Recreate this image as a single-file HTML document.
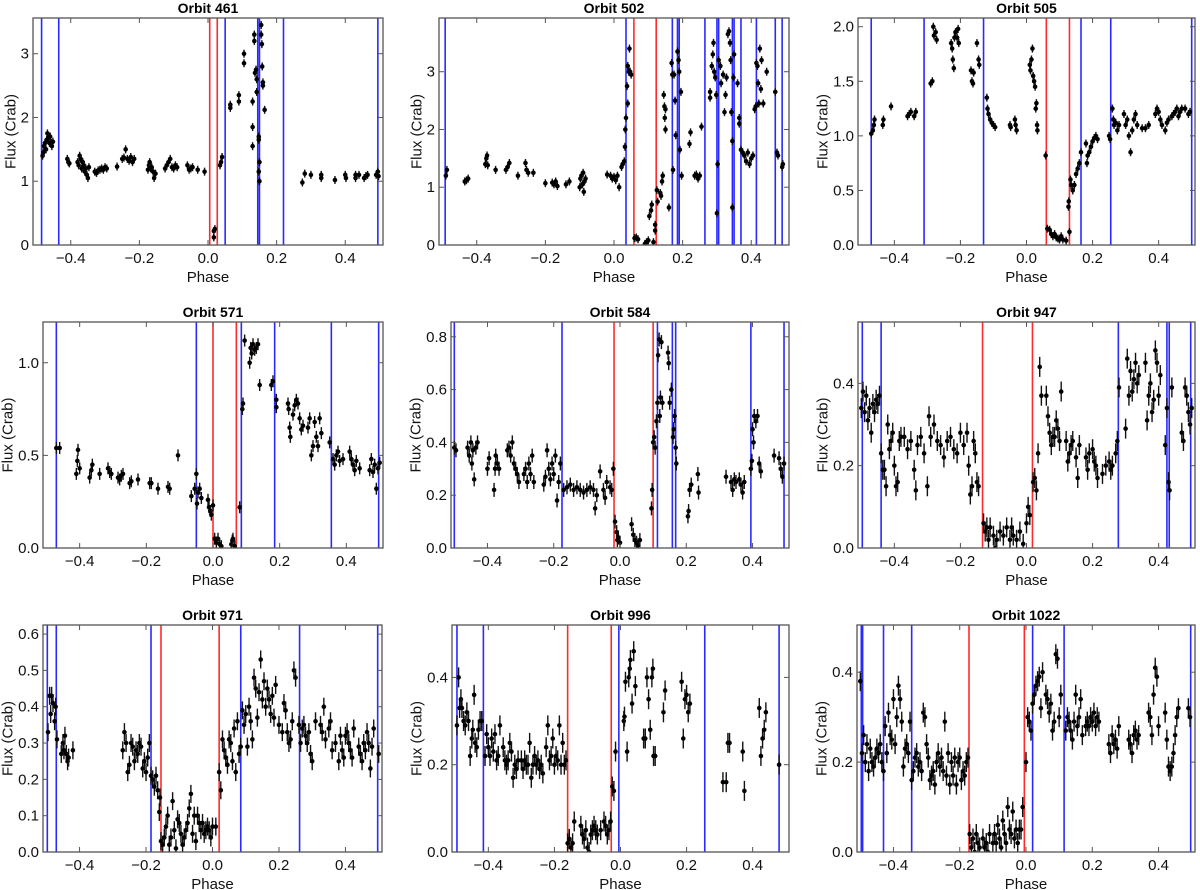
<!DOCTYPE html>
<html><head><meta charset="utf-8"><style>
html,body{margin:0;padding:0;background:#fff;}
svg{display:block;font-family:"Liberation Sans",Arial,sans-serif;}
</style></head><body>
<svg id="fig" width="1200" height="890" viewBox="0 0 1200 890" xmlns="http://www.w3.org/2000/svg"></svg>
<script>
const obs461=[[-0.482,1.4],[-0.48,1.45],[-0.478,1.55],[-0.475,1.6],[-0.472,1.5],[-0.47,1.65],[-0.468,1.75],[-0.465,1.68],[-0.462,1.6],[-0.46,1.7],[-0.457,1.6],[-0.455,1.55],[-0.452,1.62],[-0.41,1.35],[-0.407,1.3],[-0.404,1.28],[-0.38,1.3],[-0.377,1.25],[-0.374,1.4],[-0.371,1.35],[-0.368,1.2],[-0.365,1.3],[-0.362,1.25],[-0.359,1.15],[-0.356,1.2],[-0.353,1.1],[-0.35,1.05],[-0.347,1.22],[-0.33,1.15],[-0.325,1.13],[-0.32,1.17],[-0.315,1.18],[-0.31,1.2],[-0.305,1.18],[-0.3,1.22],[-0.295,1.2],[-0.265,1.23],[-0.25,1.35],[-0.245,1.37],[-0.24,1.5],[-0.235,1.35],[-0.23,1.32],[-0.225,1.38],[-0.22,1.3],[-0.215,1.35],[-0.175,1.18],[-0.172,1.25],[-0.17,1.3],[-0.167,1.2],[-0.164,1.22],[-0.16,1.15],[-0.157,1.05],[-0.153,1.12],[-0.125,1.2],[-0.12,1.25],[-0.115,1.3],[-0.11,1.35],[-0.105,1.22],[-0.1,1.2],[-0.095,1.25],[-0.09,1.22],[-0.06,1.25],[-0.055,1.18],[-0.05,1.2],[-0.045,1.22],[-0.03,1.18],[-0.01,1.15],[0.017,0.12],[0.017,0.22],[0.02,0.25],[0.035,1.25],[0.038,1.3],[0.041,1.38],[0.065,2.2],[0.065,2.15],[0.09,2.35],[0.09,2.25],[0.105,3.0],[0.105,2.85],[0.13,2.25],[0.13,1.85],[0.13,1.55],[0.135,3.3],[0.135,3.2],[0.137,2.7],[0.14,2.75],[0.142,2.6],[0.142,2.4],[0.148,1.7],[0.148,1.65],[0.15,1.3],[0.148,1.15],[0.15,1.0],[0.155,3.45],[0.155,3.3],[0.157,3.15],[0.158,2.8],[0.16,2.55],[0.16,2.5],[0.165,2.12],[0.275,0.98],[0.282,1.12],[0.3,1.1],[0.33,1.1],[0.33,1.05],[0.37,1.02],[0.4,1.1],[0.402,1.05],[0.43,1.05],[0.43,1.1],[0.44,1.1],[0.455,1.05],[0.46,1.08],[0.465,1.1],[0.49,1.1],[0.495,1.15],[0.497,1.08]];
const blue461=[-0.485,-0.435,0.05,0.145,0.15,0.22,0.495];
const red461=[0.005,0.027];

const obs502=[[-0.49,1.2],[-0.487,1.3],[-0.435,1.1],[-0.43,1.12],[-0.425,1.15],[-0.375,1.4],[-0.372,1.5],[-0.37,1.55],[-0.368,1.38],[-0.345,1.3],[-0.315,1.3],[-0.31,1.35],[-0.305,1.42],[-0.28,1.2],[-0.258,1.42],[-0.255,1.3],[-0.25,1.25],[-0.235,1.25],[-0.2,1.07],[-0.18,1.08],[-0.175,1.05],[-0.17,1.1],[-0.165,1.02],[-0.14,1.05],[-0.13,1.1],[-0.1,1.0],[-0.098,1.15],[-0.095,1.2],[-0.092,1.05],[-0.09,1.25],[-0.088,0.92],[-0.086,1.1],[-0.083,1.15],[-0.02,1.22],[-0.01,1.2],[-0.005,1.15],[0.0,1.18],[0.005,1.12],[0.01,1.2],[0.015,1.0],[0.022,1.35],[0.025,1.4],[0.03,1.45],[0.032,1.7],[0.033,2.0],[0.035,2.2],[0.038,2.75],[0.04,2.45],[0.04,3.1],[0.043,3.0],[0.045,3.4],[0.047,3.0],[0.05,2.95],[0.06,0.12],[0.065,0.13],[0.07,0.1],[0.09,0.02],[0.095,0.05],[0.1,0.08],[0.103,0.5],[0.108,0.6],[0.11,0.7],[0.115,0.05],[0.12,0.25],[0.12,0.35],[0.125,0.95],[0.127,0.75],[0.135,0.9],[0.137,0.85],[0.14,1.1],[0.142,1.2],[0.145,2.6],[0.147,2.4],[0.148,2.2],[0.15,2.0],[0.15,2.35],[0.16,0.65],[0.168,3.15],[0.17,2.95],[0.172,1.3],[0.175,2.95],[0.178,2.5],[0.18,1.9],[0.185,3.35],[0.188,3.2],[0.19,3.0],[0.192,1.65],[0.195,2.65],[0.197,1.2],[0.22,1.75],[0.223,1.95],[0.235,1.2],[0.24,1.22],[0.245,1.15],[0.25,1.2],[0.255,2.05],[0.28,2.55],[0.28,2.65],[0.285,3.1],[0.288,3.3],[0.29,3.5],[0.292,3.0],[0.295,2.9],[0.298,2.6],[0.3,0.55],[0.302,1.4],[0.305,3.2],[0.31,3.1],[0.312,2.8],[0.318,2.95],[0.322,2.3],[0.325,2.6],[0.328,2.9],[0.332,3.65],[0.335,3.7],[0.338,3.5],[0.34,3.2],[0.342,2.3],[0.345,1.8],[0.345,0.65],[0.348,2.9],[0.35,3.3],[0.36,2.8],[0.365,2.2],[0.365,2.1],[0.37,1.65],[0.375,1.6],[0.38,1.55],[0.385,1.45],[0.39,1.6],[0.395,1.4],[0.4,1.5],[0.405,1.55],[0.41,2.35],[0.413,2.4],[0.415,3.15],[0.418,3.1],[0.42,2.8],[0.422,2.45],[0.425,3.4],[0.428,2.7],[0.43,3.2],[0.435,2.45],[0.445,3.0],[0.47,2.65],[0.475,1.6],[0.478,1.55],[0.49,1.35],[0.492,1.4]];
const blue502=[-0.492,0.035,0.17,0.185,0.19,0.265,0.3,0.305,0.345,0.35,0.37,0.415,0.47,0.49];
const red502=[0.058,0.123];

const obs505=[[-0.47,1.02],[-0.465,1.05],[-0.462,1.1],[-0.46,1.15],[-0.435,1.1],[-0.433,1.15],[-0.41,1.27],[-0.36,1.18],[-0.355,1.2],[-0.35,1.22],[-0.34,1.18],[-0.335,1.22],[-0.29,1.48],[-0.285,1.5],[-0.282,2.0],[-0.28,1.92],[-0.275,1.95],[-0.272,1.88],[-0.228,1.85],[-0.225,1.8],[-0.223,1.7],[-0.22,1.62],[-0.218,1.9],[-0.215,1.95],[-0.21,1.9],[-0.207,1.98],[-0.205,1.85],[-0.168,1.6],[-0.165,1.5],[-0.162,1.48],[-0.16,1.58],[-0.15,1.85],[-0.145,1.7],[-0.143,1.65],[-0.12,1.35],[-0.118,1.25],[-0.115,1.2],[-0.11,1.15],[-0.105,1.12],[-0.1,1.1],[-0.095,1.08],[-0.05,1.1],[-0.048,1.08],[-0.035,1.15],[-0.033,1.1],[-0.03,1.05],[0.01,1.65],[0.012,1.6],[0.015,1.7],[0.018,1.8],[0.02,1.55],[0.023,1.5],[0.026,1.45],[0.028,1.25],[0.03,1.3],[0.032,1.1],[0.033,1.05],[0.058,0.82],[0.063,0.15],[0.07,0.14],[0.075,0.1],[0.08,0.08],[0.085,0.1],[0.09,0.07],[0.095,0.06],[0.1,0.05],[0.105,0.08],[0.11,0.05],[0.12,0.04],[0.127,0.35],[0.128,0.4],[0.13,0.12],[0.133,0.6],[0.135,0.55],[0.14,0.5],[0.145,0.55],[0.15,0.65],[0.155,0.7],[0.16,0.75],[0.165,0.85],[0.18,0.93],[0.183,0.75],[0.185,0.82],[0.19,0.85],[0.195,0.9],[0.2,0.95],[0.205,0.98],[0.21,1.0],[0.215,0.97],[0.25,1.0],[0.253,0.97],[0.26,1.25],[0.263,1.15],[0.265,1.1],[0.27,1.12],[0.275,1.05],[0.28,1.1],[0.295,1.2],[0.3,1.1],[0.305,1.15],[0.31,1.0],[0.315,0.85],[0.32,1.05],[0.325,1.15],[0.33,1.2],[0.335,1.1],[0.35,1.07],[0.36,1.07],[0.37,1.1],[0.39,1.2],[0.395,1.25],[0.4,1.22],[0.405,1.15],[0.41,1.1],[0.42,1.05],[0.425,1.12],[0.43,1.15],[0.44,1.18],[0.445,1.2],[0.45,1.22],[0.455,1.25],[0.46,1.18],[0.465,1.22],[0.47,1.25],[0.48,1.25],[0.49,1.2],[0.495,1.22]];
const blue505=[-0.47,-0.31,-0.13,0.165,0.255,0.5];
const red505=[0.06,0.13];

const obs571=[[-0.47,0.54],[-0.46,0.54],[-0.41,0.4],[-0.407,0.47],[-0.405,0.53],[-0.4,0.43],[-0.37,0.38],[-0.365,0.42],[-0.362,0.45],[-0.34,0.4],[-0.315,0.43],[-0.31,0.41],[-0.305,0.4],[-0.285,0.38],[-0.28,0.37],[-0.275,0.39],[-0.27,0.4],[-0.25,0.35],[-0.245,0.36],[-0.225,0.37],[-0.19,0.35],[-0.185,0.35],[-0.165,0.32],[-0.135,0.33],[-0.13,0.32],[-0.105,0.5],[-0.065,0.28],[-0.055,0.32],[-0.05,0.4],[-0.048,0.24],[-0.045,0.3],[-0.04,0.32],[-0.035,0.27],[-0.015,0.26],[-0.012,0.22],[-0.008,0.2],[-0.005,0.18],[0.0,0.23],[0.005,0.05],[0.01,0.03],[0.015,0.05],[0.02,0.02],[0.025,0.01],[0.055,0.02],[0.058,0.04],[0.06,0.05],[0.065,0.01],[0.08,0.22],[0.088,0.75],[0.09,0.78],[0.095,1.12],[0.11,1.0],[0.113,1.08],[0.116,1.05],[0.12,1.1],[0.125,1.07],[0.13,1.08],[0.135,1.1],[0.14,0.88],[0.175,0.88],[0.18,0.9],[0.19,0.8],[0.19,0.76],[0.225,0.78],[0.227,0.75],[0.23,0.65],[0.232,0.6],[0.24,0.72],[0.245,0.77],[0.25,0.8],[0.255,0.78],[0.26,0.7],[0.265,0.64],[0.27,0.66],[0.285,0.65],[0.29,0.7],[0.295,0.5],[0.3,0.55],[0.305,0.68],[0.31,0.6],[0.315,0.55],[0.32,0.7],[0.325,0.62],[0.35,0.57],[0.36,0.48],[0.365,0.45],[0.37,0.5],[0.375,0.52],[0.38,0.47],[0.39,0.48],[0.41,0.52],[0.415,0.48],[0.42,0.45],[0.425,0.42],[0.43,0.47],[0.44,0.43],[0.47,0.42],[0.475,0.48],[0.48,0.41],[0.485,0.45],[0.49,0.32],[0.495,0.43],[0.5,0.46]];
const blue571=[-0.47,-0.05,0.085,0.185,0.355,0.497];
const red571=[0.0,0.07];

const obs584=[[-0.5,0.38],[-0.495,0.37],[-0.46,0.38],[-0.455,0.35],[-0.45,0.4],[-0.447,0.32],[-0.444,0.37],[-0.44,0.26],[-0.435,0.38],[-0.43,0.4],[-0.4,0.3],[-0.395,0.34],[-0.38,0.22],[-0.377,0.3],[-0.375,0.35],[-0.37,0.32],[-0.365,0.3],[-0.34,0.37],[-0.335,0.38],[-0.33,0.35],[-0.325,0.4],[-0.32,0.32],[-0.315,0.3],[-0.31,0.28],[-0.305,0.25],[-0.29,0.28],[-0.285,0.3],[-0.28,0.25],[-0.275,0.32],[-0.27,0.28],[-0.265,0.35],[-0.26,0.25],[-0.23,0.24],[-0.225,0.27],[-0.22,0.37],[-0.215,0.3],[-0.21,0.26],[-0.205,0.32],[-0.2,0.28],[-0.195,0.35],[-0.19,0.18],[-0.185,0.25],[-0.18,0.32],[-0.17,0.22],[-0.16,0.23],[-0.15,0.24],[-0.14,0.22],[-0.13,0.23],[-0.12,0.22],[-0.11,0.21],[-0.1,0.22],[-0.09,0.23],[-0.08,0.22],[-0.075,0.15],[-0.07,0.2],[-0.06,0.29],[-0.05,0.22],[-0.045,0.19],[-0.04,0.25],[-0.03,0.23],[-0.025,0.22],[-0.02,0.3],[-0.015,0.1],[-0.01,0.06],[-0.008,0.03],[-0.005,0.04],[0.0,0.02],[0.035,0.09],[0.04,0.05],[0.045,0.03],[0.05,0.02],[0.055,0.01],[0.06,0.03],[0.095,0.15],[0.097,0.22],[0.1,0.4],[0.103,0.42],[0.106,0.38],[0.11,0.48],[0.113,0.55],[0.115,0.73],[0.118,0.79],[0.12,0.5],[0.122,0.57],[0.125,0.78],[0.128,0.55],[0.145,0.74],[0.147,0.7],[0.15,0.55],[0.155,0.6],[0.16,0.42],[0.162,0.45],[0.165,0.5],[0.168,0.38],[0.17,0.32],[0.205,0.12],[0.207,0.14],[0.21,0.22],[0.215,0.24],[0.235,0.28],[0.237,0.21],[0.32,0.27],[0.335,0.25],[0.34,0.22],[0.345,0.26],[0.35,0.25],[0.36,0.26],[0.365,0.24],[0.37,0.21],[0.375,0.25],[0.395,0.3],[0.398,0.33],[0.4,0.45],[0.403,0.4],[0.405,0.5],[0.41,0.48],[0.415,0.5],[0.42,0.32],[0.425,0.29],[0.465,0.35],[0.48,0.34],[0.485,0.3],[0.49,0.27],[0.495,0.32]];
const blue584=[-0.5,-0.175,0.113,0.158,0.168,0.395,0.495];
const red584=[-0.018,0.1];

const obs947=[[-0.5,0.34],[-0.495,0.38],[-0.49,0.33],[-0.485,0.37],[-0.48,0.31],[-0.475,0.34],[-0.47,0.28],[-0.465,0.35],[-0.46,0.33],[-0.455,0.36],[-0.45,0.35],[-0.445,0.37],[-0.44,0.23],[-0.435,0.19],[-0.43,0.19],[-0.425,0.15],[-0.42,0.3],[-0.415,0.24],[-0.41,0.26],[-0.405,0.28],[-0.4,0.2],[-0.395,0.15],[-0.39,0.16],[-0.385,0.26],[-0.38,0.27],[-0.37,0.27],[-0.36,0.24],[-0.35,0.26],[-0.34,0.19],[-0.335,0.14],[-0.33,0.25],[-0.32,0.27],[-0.31,0.23],[-0.3,0.15],[-0.295,0.32],[-0.29,0.27],[-0.28,0.3],[-0.27,0.26],[-0.26,0.25],[-0.25,0.22],[-0.24,0.26],[-0.23,0.27],[-0.22,0.24],[-0.21,0.23],[-0.2,0.28],[-0.19,0.25],[-0.18,0.28],[-0.175,0.2],[-0.17,0.13],[-0.165,0.15],[-0.16,0.26],[-0.155,0.23],[-0.15,0.16],[-0.145,0.15],[-0.13,0.06],[-0.125,0.04],[-0.12,0.05],[-0.115,0.02],[-0.11,0.05],[-0.1,0.03],[-0.095,0.0],[-0.09,0.02],[-0.08,0.04],[-0.07,0.03],[-0.06,0.05],[-0.05,0.02],[-0.045,0.05],[-0.04,0.03],[-0.03,0.02],[-0.02,0.04],[-0.01,0.01],[0.0,0.06],[0.005,0.1],[0.01,0.08],[0.02,0.16],[0.025,0.17],[0.03,0.14],[0.035,0.23],[0.04,0.44],[0.045,0.37],[0.06,0.37],[0.065,0.32],[0.07,0.28],[0.075,0.25],[0.08,0.27],[0.085,0.27],[0.09,0.31],[0.095,0.29],[0.1,0.26],[0.105,0.38],[0.12,0.26],[0.125,0.21],[0.13,0.23],[0.135,0.25],[0.14,0.26],[0.15,0.22],[0.155,0.17],[0.16,0.25],[0.18,0.22],[0.185,0.19],[0.19,0.23],[0.2,0.24],[0.205,0.21],[0.21,0.2],[0.215,0.17],[0.23,0.18],[0.24,0.2],[0.25,0.21],[0.255,0.19],[0.26,0.2],[0.27,0.23],[0.275,0.26],[0.28,0.39],[0.3,0.29],[0.305,0.46],[0.31,0.37],[0.315,0.43],[0.32,0.38],[0.325,0.41],[0.33,0.45],[0.335,0.4],[0.34,0.42],[0.36,0.45],[0.365,0.31],[0.37,0.37],[0.375,0.4],[0.38,0.33],[0.385,0.36],[0.39,0.48],[0.395,0.45],[0.4,0.37],[0.405,0.42],[0.42,0.25],[0.425,0.34],[0.43,0.16],[0.433,0.14],[0.44,0.39],[0.47,0.28],[0.475,0.26],[0.48,0.39],[0.485,0.37],[0.49,0.33],[0.495,0.3],[0.5,0.34]];
const blue947=[-0.497,-0.44,0.278,0.425,0.432,0.497];
const red947=[-0.133,0.018];

const obs971=[[-0.495,0.33],[-0.49,0.43],[-0.487,0.38],[-0.484,0.43],[-0.48,0.41],[-0.475,0.36],[-0.472,0.4],[-0.468,0.31],[-0.455,0.27],[-0.45,0.3],[-0.447,0.28],[-0.444,0.32],[-0.44,0.27],[-0.436,0.25],[-0.433,0.26],[-0.42,0.28],[-0.27,0.28],[-0.265,0.33],[-0.26,0.3],[-0.255,0.22],[-0.25,0.24],[-0.245,0.3],[-0.24,0.29],[-0.235,0.25],[-0.23,0.28],[-0.225,0.27],[-0.22,0.3],[-0.215,0.29],[-0.21,0.23],[-0.205,0.25],[-0.2,0.22],[-0.195,0.26],[-0.19,0.3],[-0.185,0.21],[-0.18,0.2],[-0.175,0.18],[-0.17,0.21],[-0.165,0.17],[-0.16,0.11],[-0.158,0.15],[-0.155,0.03],[-0.15,0.02],[-0.145,0.04],[-0.14,0.07],[-0.135,0.1],[-0.13,0.02],[-0.125,0.04],[-0.12,0.14],[-0.115,0.06],[-0.11,0.01],[-0.105,0.09],[-0.1,0.08],[-0.095,0.05],[-0.09,0.02],[-0.085,0.04],[-0.08,0.06],[-0.075,0.08],[-0.07,0.12],[-0.065,0.16],[-0.06,0.05],[-0.055,0.1],[-0.05,0.03],[-0.045,0.1],[-0.04,0.08],[-0.035,0.06],[-0.03,0.08],[-0.025,0.05],[-0.02,0.06],[-0.015,0.07],[-0.01,0.06],[-0.005,0.04],[0.0,0.07],[0.01,0.07],[0.02,0.22],[0.025,0.17],[0.03,0.31],[0.035,0.28],[0.04,0.26],[0.045,0.24],[0.05,0.31],[0.055,0.3],[0.06,0.25],[0.065,0.34],[0.07,0.22],[0.075,0.36],[0.08,0.27],[0.085,0.29],[0.09,0.39],[0.095,0.35],[0.1,0.38],[0.105,0.29],[0.11,0.4],[0.115,0.36],[0.12,0.31],[0.125,0.48],[0.13,0.45],[0.135,0.37],[0.14,0.44],[0.145,0.53],[0.15,0.42],[0.155,0.47],[0.16,0.4],[0.165,0.45],[0.17,0.42],[0.175,0.38],[0.18,0.43],[0.185,0.37],[0.19,0.46],[0.2,0.35],[0.21,0.33],[0.215,0.41],[0.22,0.39],[0.225,0.33],[0.23,0.3],[0.235,0.31],[0.24,0.36],[0.245,0.5],[0.25,0.48],[0.26,0.35],[0.265,0.3],[0.27,0.34],[0.275,0.35],[0.28,0.32],[0.285,0.3],[0.29,0.33],[0.295,0.27],[0.3,0.25],[0.31,0.36],[0.325,0.35],[0.33,0.33],[0.335,0.4],[0.34,0.31],[0.35,0.34],[0.355,0.36],[0.36,0.28],[0.37,0.3],[0.38,0.25],[0.385,0.32],[0.39,0.28],[0.395,0.26],[0.4,0.32],[0.405,0.33],[0.41,0.3],[0.415,0.28],[0.42,0.26],[0.425,0.34],[0.44,0.29],[0.445,0.27],[0.45,0.25],[0.455,0.3],[0.46,0.28],[0.465,0.33],[0.47,0.3],[0.475,0.23],[0.48,0.29],[0.485,0.34],[0.5,0.27]];
const blue971=[-0.497,-0.47,-0.185,0.085,0.262,0.497];
const red971=[-0.155,0.02];

const obs996=[[-0.495,0.29],[-0.49,0.4],[-0.487,0.33],[-0.483,0.35],[-0.48,0.33],[-0.475,0.3],[-0.47,0.29],[-0.465,0.32],[-0.46,0.3],[-0.455,0.22],[-0.45,0.26],[-0.447,0.28],[-0.443,0.36],[-0.44,0.25],[-0.435,0.24],[-0.43,0.28],[-0.425,0.3],[-0.42,0.3],[-0.41,0.22],[-0.405,0.27],[-0.4,0.24],[-0.395,0.22],[-0.39,0.26],[-0.385,0.23],[-0.38,0.27],[-0.375,0.21],[-0.37,0.22],[-0.365,0.29],[-0.355,0.24],[-0.35,0.21],[-0.345,0.2],[-0.34,0.21],[-0.335,0.25],[-0.33,0.23],[-0.325,0.17],[-0.32,0.2],[-0.315,0.19],[-0.31,0.21],[-0.3,0.21],[-0.295,0.19],[-0.29,0.21],[-0.285,0.2],[-0.28,0.2],[-0.275,0.25],[-0.27,0.17],[-0.265,0.2],[-0.26,0.22],[-0.255,0.2],[-0.25,0.21],[-0.245,0.19],[-0.24,0.2],[-0.235,0.18],[-0.225,0.24],[-0.22,0.29],[-0.215,0.21],[-0.21,0.22],[-0.205,0.26],[-0.2,0.2],[-0.195,0.22],[-0.19,0.21],[-0.185,0.29],[-0.18,0.2],[-0.175,0.25],[-0.17,0.2],[-0.165,0.21],[-0.16,0.02],[-0.155,0.03],[-0.15,0.01],[-0.145,0.02],[-0.14,0.07],[-0.12,0.06],[-0.115,0.04],[-0.11,0.03],[-0.105,0.05],[-0.1,0.01],[-0.095,0.0],[-0.09,0.04],[-0.085,0.05],[-0.08,0.06],[-0.075,0.05],[-0.07,0.04],[-0.06,0.05],[-0.05,0.07],[-0.045,0.06],[-0.04,0.04],[-0.035,0.05],[-0.03,0.07],[-0.025,0.15],[-0.02,0.14],[-0.015,0.23],[0.01,0.3],[0.012,0.31],[0.015,0.39],[0.02,0.23],[0.025,0.4],[0.028,0.42],[0.03,0.44],[0.035,0.34],[0.04,0.46],[0.045,0.38],[0.07,0.26],[0.075,0.26],[0.08,0.4],[0.085,0.35],[0.09,0.28],[0.095,0.4],[0.098,0.42],[0.1,0.22],[0.105,0.22],[0.13,0.32],[0.135,0.37],[0.185,0.39],[0.19,0.26],[0.195,0.35],[0.2,0.36],[0.205,0.32],[0.21,0.34],[0.31,0.16],[0.32,0.16],[0.325,0.25],[0.33,0.25],[0.37,0.23],[0.375,0.14],[0.42,0.33],[0.425,0.22],[0.43,0.26],[0.435,0.28],[0.44,0.32],[0.48,0.2]];
const blue996=[-0.495,-0.415,-0.005,0.255,0.48];
const red996=[-0.16,-0.028];

const obs1022=[[-0.5,0.38],[-0.495,0.22],[-0.49,0.26],[-0.485,0.2],[-0.48,0.24],[-0.475,0.18],[-0.47,0.23],[-0.465,0.2],[-0.46,0.19],[-0.455,0.21],[-0.45,0.23],[-0.445,0.22],[-0.44,0.24],[-0.435,0.2],[-0.43,0.18],[-0.425,0.28],[-0.42,0.22],[-0.415,0.31],[-0.41,0.26],[-0.405,0.25],[-0.4,0.34],[-0.395,0.24],[-0.39,0.3],[-0.385,0.37],[-0.38,0.34],[-0.375,0.29],[-0.37,0.19],[-0.365,0.23],[-0.36,0.24],[-0.355,0.22],[-0.35,0.29],[-0.345,0.16],[-0.34,0.18],[-0.335,0.21],[-0.33,0.22],[-0.325,0.19],[-0.32,0.2],[-0.315,0.18],[-0.31,0.31],[-0.305,0.3],[-0.3,0.24],[-0.295,0.21],[-0.29,0.16],[-0.285,0.17],[-0.28,0.18],[-0.275,0.15],[-0.27,0.2],[-0.265,0.22],[-0.26,0.19],[-0.255,0.21],[-0.25,0.18],[-0.245,0.29],[-0.24,0.17],[-0.235,0.22],[-0.23,0.15],[-0.225,0.2],[-0.22,0.17],[-0.215,0.21],[-0.21,0.15],[-0.205,0.2],[-0.2,0.21],[-0.195,0.16],[-0.19,0.18],[-0.185,0.17],[-0.18,0.2],[-0.175,0.21],[-0.17,0.04],[-0.165,0.01],[-0.16,0.03],[-0.155,0.0],[-0.15,0.04],[-0.145,0.02],[-0.14,0.01],[-0.13,0.03],[-0.125,0.01],[-0.12,0.02],[-0.115,0.0],[-0.11,0.04],[-0.1,0.02],[-0.095,0.04],[-0.09,0.02],[-0.085,0.06],[-0.08,0.03],[-0.075,0.01],[-0.07,0.07],[-0.065,0.04],[-0.06,0.02],[-0.055,0.1],[-0.05,0.05],[-0.045,0.04],[-0.04,0.09],[-0.035,0.03],[-0.03,0.05],[-0.025,0.02],[-0.02,0.05],[-0.015,0.05],[-0.01,0.1],[0.0,0.2],[0.005,0.3],[0.01,0.29],[0.015,0.27],[0.02,0.33],[0.025,0.35],[0.03,0.37],[0.035,0.38],[0.04,0.39],[0.045,0.32],[0.05,0.4],[0.06,0.35],[0.065,0.34],[0.07,0.31],[0.075,0.33],[0.08,0.27],[0.085,0.29],[0.09,0.44],[0.095,0.43],[0.1,0.3],[0.105,0.35],[0.12,0.27],[0.125,0.3],[0.13,0.29],[0.135,0.27],[0.14,0.25],[0.145,0.29],[0.15,0.35],[0.155,0.28],[0.16,0.3],[0.165,0.34],[0.17,0.26],[0.18,0.28],[0.185,0.29],[0.19,0.28],[0.195,0.3],[0.2,0.29],[0.205,0.31],[0.21,0.28],[0.215,0.3],[0.22,0.29],[0.25,0.24],[0.255,0.22],[0.26,0.26],[0.265,0.24],[0.27,0.25],[0.275,0.23],[0.28,0.28],[0.31,0.25],[0.315,0.24],[0.32,0.22],[0.325,0.26],[0.33,0.27],[0.335,0.25],[0.34,0.26],[0.37,0.31],[0.375,0.3],[0.38,0.26],[0.385,0.35],[0.39,0.41],[0.395,0.39],[0.4,0.28],[0.42,0.31],[0.425,0.25],[0.43,0.19],[0.435,0.18],[0.44,0.19],[0.445,0.22],[0.45,0.26],[0.455,0.3],[0.46,0.32],[0.49,0.32],[0.495,0.3]];
const blue1022=[-0.497,-0.493,-0.43,-0.345,0.02,0.115,0.497];
const red1022=[-0.172,-0.005];

const xTicks=[-0.4,-0.2,0.0,0.2,0.4];
const xMin=-0.51, xMax=0.51;

const panels=[
 {id:'461',obs:obs461,blue:blue461,red:red461,L:33,R:383,T:18,B:245,ymax:3.56,yt:[0,1,2,3],dec:0,eb:4},
 {id:'502',obs:obs502,blue:blue502,red:red502,L:439,R:789,T:18,B:245,ymax:3.93,yt:[0,1,2,3],dec:0,eb:4},
 {id:'505',obs:obs505,blue:blue505,red:red505,L:858,R:1195,T:18,B:245,ymax:2.08,yt:[0,0.5,1,1.5,2],dec:1,eb:4},
 {id:'571',obs:obs571,blue:blue571,red:red571,L:43,R:383,T:322,B:548,ymax:1.22,yt:[0,0.5,1],dec:1,eb:6},
 {id:'584',obs:obs584,blue:blue584,red:red584,L:451,R:789,T:322,B:548,ymax:0.856,yt:[0,0.2,0.4,0.6,0.8],dec:1,eb:7},
 {id:'947',obs:obs947,blue:blue947,red:red947,L:858,R:1195,T:322,B:548,ymax:0.549,yt:[0,0.2,0.4],dec:1,eb:10},
 {id:'971',obs:obs971,blue:blue971,red:red971,L:43,R:382,T:625,B:852,ymax:0.625,yt:[0,0.1,0.2,0.3,0.4,0.5,0.6],dec:1,eb:9},
 {id:'996',obs:obs996,blue:blue996,red:red996,L:452,R:789,T:625,B:852,ymax:0.52,yt:[0,0.2,0.4],dec:1,eb:10},
 {id:'1022',obs:obs1022,blue:blue1022,red:red1022,L:857,R:1195,T:625,B:852,ymax:0.505,yt:[0,0.2,0.4],dec:1,eb:10}
];

const NS='http://www.w3.org/2000/svg';
const svg=document.getElementById('fig');
function mk(tag,attrs,parent){const e=document.createElementNS(NS,tag);for(const k in attrs)e.setAttribute(k,attrs[k]);parent.appendChild(e);return e;}
function fmt(v,d){return (v<0?'\u2212':'')+Math.abs(v).toFixed(d);}

panels.forEach(p=>{
  const g=mk('g',{},svg);
  
  
  const sx=v=>p.L+(v-xMin)/(xMax-xMin)*(p.R-p.L);
  const sy=v=>p.B-v/p.ymax*(p.B-p.T);
  const clip='clip'+p.id;
  const cp=mk('clipPath',{id:clip},g);
  mk('rect',{x:p.L,y:p.T,width:p.R-p.L,height:p.B-p.T},cp);
  const vl=mk('g',{'clip-path':'url(#'+clip+')'},g);
  p.blue.forEach(v=>{const l=mk('line',{x1:sx(v),x2:sx(v),y1:p.T,y2:p.B,stroke:'#2a2aff','stroke-width':1.6},vl);
    
    });
  p.red.forEach(v=>{const l=mk('line',{x1:sx(v),x2:sx(v),y1:p.T,y2:p.B,stroke:'#ff2a2a','stroke-width':1.6},vl);
    
    });
  const dg=mk('g',{'clip-path':'url(#'+clip+')'},g);
  
  
  p.obs.forEach(o=>{const x=sx(o[0]),y=sy(o[1]);
    mk('line',{x1:x,x2:x,y1:y-p.eb,y2:y+p.eb,stroke:'#111','stroke-width':1.4},dg);
    const c=mk('circle',{cx:x,cy:y,r:2.3,fill:'#000'},dg);
    
    });
  const fr=mk('rect',{x:p.L,y:p.T,width:p.R-p.L,height:p.B-p.T,fill:'none',stroke:'#555','stroke-width':1.3},g);
  
  
  xTicks.forEach(t=>{const x=sx(t);
    mk('line',{x1:x,x2:x,y1:p.B,y2:p.B-5,stroke:'#555','stroke-width':1},g);
    mk('line',{x1:x,x2:x,y1:p.T,y2:p.T+5,stroke:'#555','stroke-width':1},g);
    const tx=mk('text',{x:x,y:p.B+18,'font-size':15,'text-anchor':'middle',fill:'#111'},g);
    tx.textContent=fmt(t,1);
    
    });
  let maxw=0;
  p.yt.forEach(t=>{const y=sy(t);
    mk('line',{x1:p.L,x2:p.L+5,y1:y,y2:y,stroke:'#555','stroke-width':1},g);
    mk('line',{x1:p.R,x2:p.R-5,y1:y,y2:y,stroke:'#555','stroke-width':1},g);
    const s=fmt(t,p.dec); maxw=Math.max(maxw,s.length*6.5);
    const tx=mk('text',{x:p.L-4,y:y+5,'font-size':15,'text-anchor':'end',fill:'#111'},g);
    tx.textContent=s;
    
    });
  const title=mk('text',{x:(p.L+p.R)/2,y:p.T-5,'font-size':14,'font-weight':'bold','text-anchor':'middle',fill:'#000'},g);
  title.textContent='Orbit '+p.id;
  
  
  const xl=mk('text',{x:(p.L+p.R)/2,y:p.B+37,'font-size':15,'text-anchor':'middle',fill:'#111'},g);
  xl.textContent='Phase';
  
  
  const yx=p.L-maxw-11, yc=(p.T+p.B)/2;
  const yl=mk('text',{x:yx,y:yc,'font-size':15,'text-anchor':'middle',fill:'#111',transform:'rotate(-90 '+yx+' '+yc+')'},g);
  yl.textContent='Flux (Crab)';
  
  
});
</script>
</body></html>
